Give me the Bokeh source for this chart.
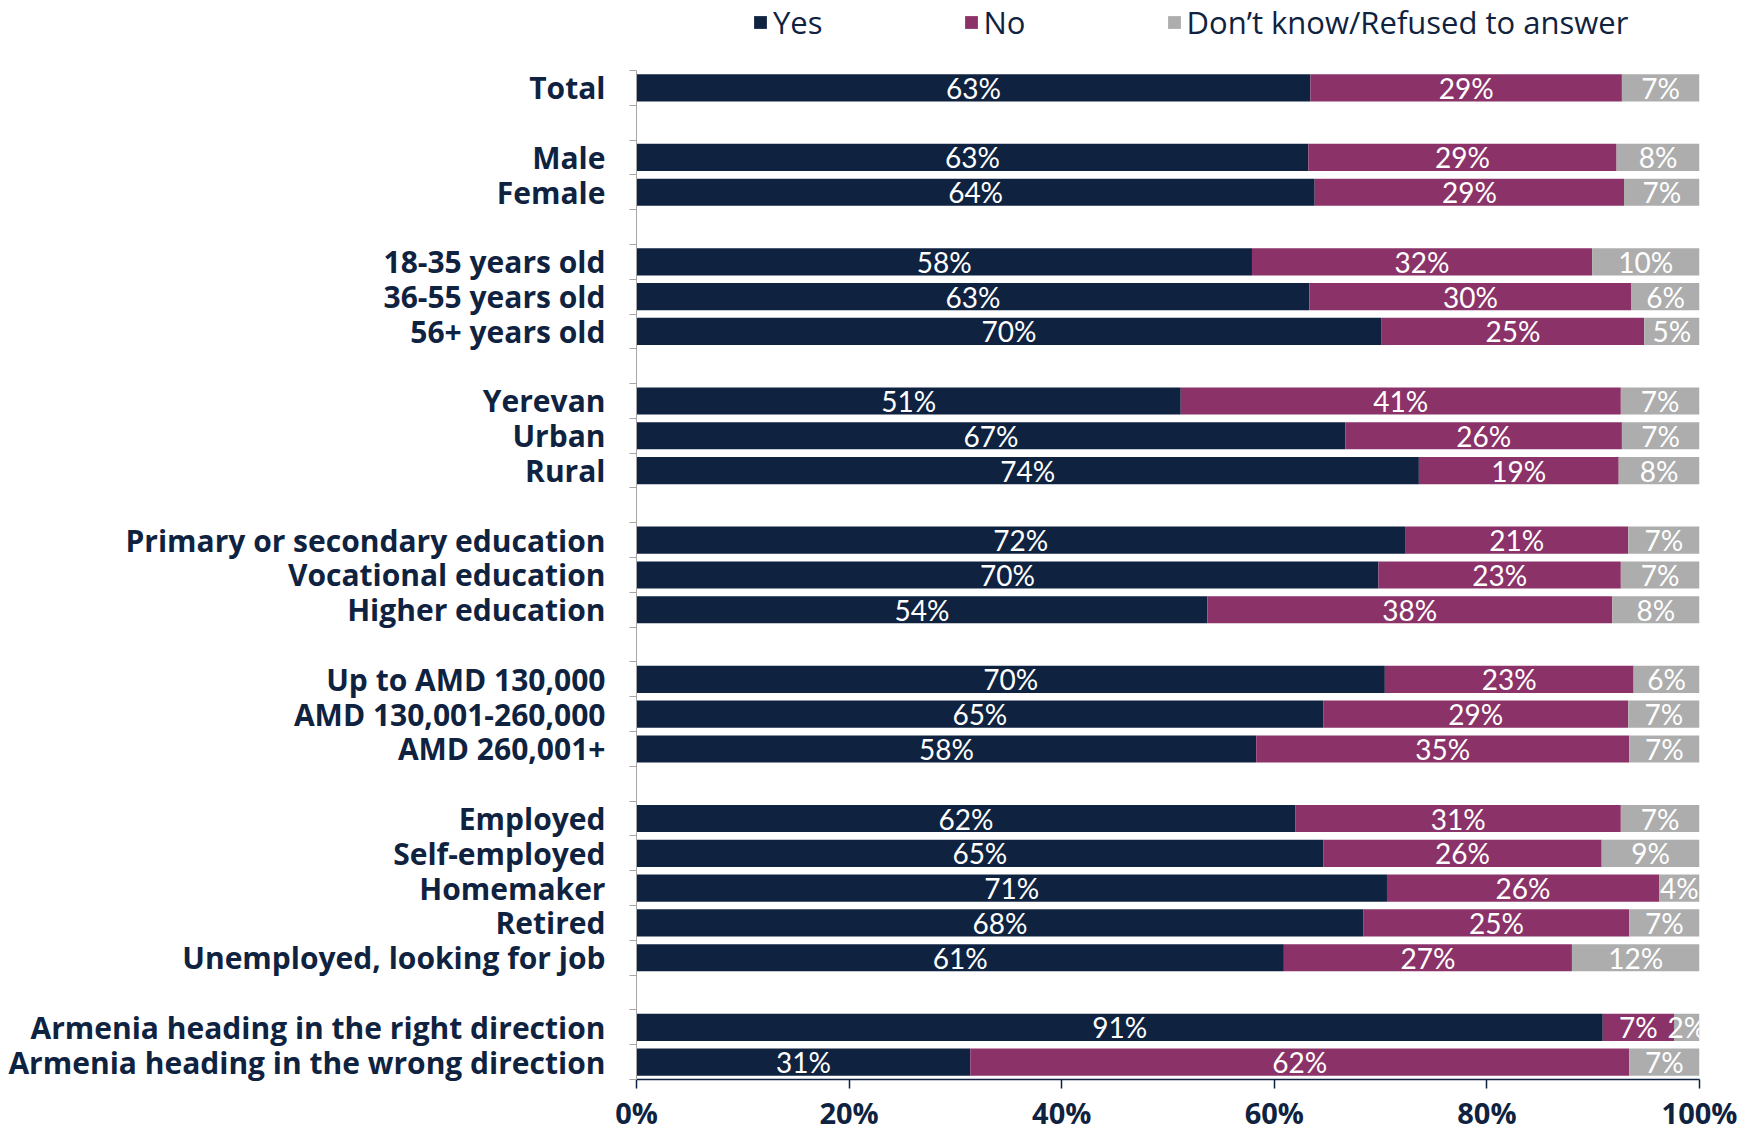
from bokeh.plotting import figure
from bokeh.models import ColumnDataSource, Legend, LegendItem, FixedTicker, Range1d
from bokeh.core.properties import value
from bokeh.embed import file_html
from bokeh.resources import INLINE

categories = [
    "Total",
    "Male", "Female",
    "18-35 years old", "36-55 years old", "56+ years old",
    "Yerevan", "Urban", "Rural",
    "Primary or secondary education", "Vocational education", "Higher education",
    "Up to AMD 130,000", "AMD 130,001-260,000", "AMD 260,001+",
    "Employed", "Self-employed", "Homemaker", "Retired", "Unemployed, looking for job",
    "Armenia heading in the right direction", "Armenia heading in the wrong direction",
]
group_sizes = [1, 2, 3, 3, 3, 3, 5, 2]

yes = [63.4, 63.2, 63.8, 57.9, 63.3, 70.1, 51.2, 66.7, 73.6, 72.3, 69.8, 53.7,
       70.4, 64.6, 58.3, 62.0, 64.6, 70.6, 68.4, 60.9, 90.9, 31.4]
no = [29.3, 29.0, 29.1, 32.0, 30.3, 24.7, 41.4, 26.0, 18.8, 21.0, 22.8, 38.1,
      23.4, 28.7, 35.1, 30.6, 26.2, 25.6, 25.0, 27.1, 6.7, 62.0]
dk = [7.3, 7.8, 7.1, 10.1, 6.4, 5.2, 7.4, 7.3, 7.6, 6.7, 7.4, 8.2,
      6.2, 6.7, 6.6, 7.4, 9.2, 3.8, 6.6, 12.0, 2.4, 6.6]

series_names = ["Yes", "No", "Don\u2019t know/Refused to answer"]
colors = ["#0F2341", "#8B3369", "#ADADAD"]

NAVY = "#0F2341"
CAT_FONT = "Open Sans"
LBL_FONT = "Lato"

# row positions: one blank row between groups
rows = []
r = 0
for gi, g in enumerate(group_sizes):
    for _ in range(g):
        rows.append(r)
        r += 1
    if gi < len(group_sizes) - 1:
        r += 1
n_rows = r

# extra room above the first row holds the legend
p = figure(width=1750, height=1134,
           x_range=Range1d(0, 100), y_range=Range1d(n_rows - 0.5, -2.51),
           output_backend="svg", toolbar_location=None,
           min_border_left=636, min_border_right=51,
           min_border_top=0, min_border_bottom=53)
p.outline_line_color = None
p.xgrid.visible = False
p.ygrid.visible = False

series = [yes, no, dk]
renderers = []
left = [0.0] * len(categories)
for vals, col in zip(series, colors):
    right = [l + v for l, v in zip(left, vals)]
    src = ColumnDataSource(dict(y=rows, left=left, right=right,
                                cx=[(a + b) / 2 for a, b in zip(left, right)],
                                lbl=[f"{round(v)}%" for v in vals]))
    rr = p.hbar(y="y", left="left", right="right", height=0.78, source=src,
                fill_color=col, line_color=None)
    p.text(x="cx", y="y", text="lbl", source=src, text_align="center",
           text_baseline="middle", text_color="white",
           text_font=value(LBL_FONT), text_font_size="28px")
    renderers.append(rr)
    left = right

legend = Legend(items=[LegendItem(label=n, renderers=[rr]) for n, rr in zip(series_names, renderers)],
                orientation="horizontal", location=(116, 1036),
                padding=0, margin=0, spacing=140,
                glyph_width=16, glyph_height=16, label_standoff=5,
                border_line_color=None, background_fill_alpha=0,
                label_text_font=CAT_FONT, label_text_font_size="31px",
                label_text_color=NAVY)
p.add_layout(legend)

# y axis
yax = p.yaxis[0]
yax.bounds = (-0.5, n_rows - 0.5)
yax.ticker = FixedTicker(ticks=rows, minor_ticks=[i - 0.5 for i in range(n_rows + 1)])
yax.major_label_overrides = {rw: c for rw, c in zip(rows, categories)}
yax.major_tick_out = 0
yax.major_tick_in = 0
yax.minor_tick_out = 7
yax.minor_tick_in = 0
yax.axis_line_color = "#A6A6A6"
yax.minor_tick_line_color = "#A6A6A6"
yax.major_label_text_font = CAT_FONT
yax.major_label_text_font_style = "bold"
yax.major_label_text_font_size = "30px"
yax.major_label_text_color = NAVY
yax.major_label_standoff = 24

# x axis
xticks = [0, 20, 40, 60, 80, 100]
xax = p.xaxis[0]
xax.ticker = FixedTicker(ticks=xticks, minor_ticks=[])
xax.major_label_overrides = {t: f"{t}%" for t in xticks}
xax.major_tick_out = 9
xax.major_tick_in = 0
xax.axis_line_color = NAVY
xax.axis_line_width = 1.5
xax.major_tick_line_color = NAVY
xax.major_tick_line_width = 1.5
xax.major_label_text_font = CAT_FONT
xax.major_label_text_font_style = "bold"
xax.major_label_text_font_size = "29px"
xax.major_label_text_color = NAVY
xax.major_label_standoff = 4

open("out.html", "w").write(file_html(p, INLINE))
